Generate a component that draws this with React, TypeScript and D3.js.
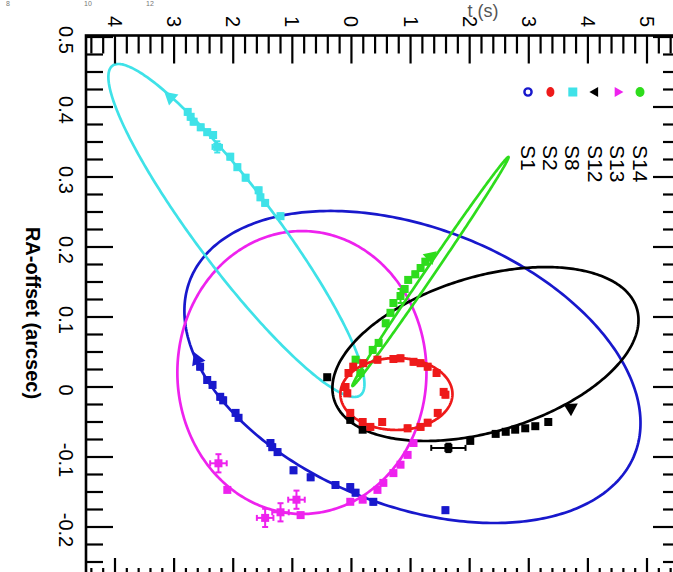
import React from "react";
import * as d3 from "d3";

const W = 673;
const H = 572;

// Horizontal axis (Dec offset, arcsec) and vertical axis (RA offset, arcsec)
const decTicks = [-0.4, -0.3, -0.2, -0.1, 0, 0.1, 0.2, 0.3, 0.4, 0.5];
const decTickLabels = ["4", "3", "2", "1", "0", "1", "2", "3", "4", "5"];
const raTicks = [0.5, 0.4, 0.3, 0.2, 0.1, 0, -0.1, -0.2];
const raTickLabels = ["0.5", "0.4", "0.3", "0.2", "0.1", "0", "-0.1", "-0.2"];

const stars = ["S1", "S2", "S8", "S12", "S13", "S14"];
const starColors = ["#1818cc", "#ee1a1a", "#3fe2e8", "#000000", "#ee22ee", "#2edc1c"];

// Orbit ellipses: centre and two conjugate semi-diameters (dec, ra) in arcsec
const orbitCenter = [[0.1032, 0.0286], [0.0761, -0.010], [-0.1946, 0.2236], [0.2267, 0.0471], [-0.0838, 0.0207], [0.1337, 0.165]];
const orbitAxisA = [[0.3858, -0.0801], [0.0948, 0], [0.2166, -0.2193], [0.2589, 0.0487], [0.2107, 0], [0.132, 0.1636]];
const orbitAxisB = [[0, -0.208], [0, 0.0514], [0, -0.0921], [0, -0.1143], [0, 0.2021], [0.0063, -0.0036]];

// Measured positions [dec, ra, errDec, errRa]
const s1Points = [
  [0.159, -0.176, 0.004, 0.004], [0.037, -0.164, 0.004, 0.004], [0.007, -0.151, 0.004, 0.004],
  [-0.002, -0.143, 0.004, 0.004], [-0.027, -0.140, 0.004, 0.004], [-0.069, -0.129, 0.004, 0.004],
  [-0.098, -0.119, 0.004, 0.004], [-0.125, -0.093, 0.004, 0.004], [-0.134, -0.086, 0.004, 0.004],
  [-0.137, -0.080, 0.004, 0.004], [-0.191, -0.044, 0.004, 0.004], [-0.196, -0.037, 0.004, 0.004],
  [-0.217, -0.019, 0.004, 0.004], [-0.222, -0.014, 0.004, 0.004], [-0.235, 0.003, 0.004, 0.004],
  [-0.244, 0.010, 0.004, 0.004], [-0.256, 0.029, 0.004, 0.004], [-0.261, 0.039, 0.004, 0.004],
];
const s2Points = [
  [0.020, 0.034, 0.003, 0.004], [0.044, 0.039, 0.003, 0.004], [0.071, 0.040, 0.003, 0.004],
  [0.083, 0.041, 0.003, 0.004], [0.105, 0.036, 0.003, 0.004], [0.117, 0.034, 0.003, 0.004],
  [0.129, 0.029, 0.003, 0.004], [0.144, 0.020, 0.003, 0.004], [0.156, -0.007, 0.003, 0.004],
  [0.159, -0.011, 0.003, 0.004], [0.146, -0.037, 0.003, 0.004], [0.129, -0.051, 0.003, 0.004],
  [0.117, -0.057, 0.003, 0.004], [0.095, -0.059, 0.003, 0.004], [0.052, -0.050, 0.003, 0.004],
  [0.032, -0.057, 0.003, 0.004], [0.019, -0.050, 0.003, 0.004], [-0.002, -0.037, 0.003, 0.004],
  [-0.007, -0.009, 0.003, 0.004], [-0.010, 0.000, 0.003, 0.004], [-0.005, 0.020, 0.003, 0.004],
  [0.003, 0.029, 0.003, 0.004],
];
const s8Points = [
  [-0.120, 0.244, 0.004, 0.004], [-0.146, 0.263, 0.004, 0.004], [-0.154, 0.271, 0.004, 0.004],
  [-0.157, 0.281, 0.004, 0.004], [-0.179, 0.299, 0.004, 0.004], [-0.193, 0.314, 0.004, 0.004],
  [-0.205, 0.329, 0.004, 0.004], [-0.227, 0.343, 0.008, 0.008], [-0.234, 0.360, 0.004, 0.004],
  [-0.244, 0.364, 0.004, 0.004], [-0.255, 0.371, 0.004, 0.004], [-0.267, 0.379, 0.004, 0.004],
  [-0.272, 0.386, 0.004, 0.004], [-0.277, 0.393, 0.004, 0.004], [-0.306, 0.414, 0.004, 0.004],
];
const s12Points = [
  [-0.041, 0.014, 0.003, 0.003], [-0.002, -0.047, 0.003, 0.003], [0.019, -0.061, 0.003, 0.003],
  [0.164, -0.087, 0.029, 0.006], [0.201, -0.077, 0.003, 0.003], [0.244, -0.067, 0.003, 0.003],
  [0.261, -0.064, 0.003, 0.003], [0.277, -0.061, 0.003, 0.003], [0.294, -0.059, 0.003, 0.003],
  [0.311, -0.056, 0.003, 0.003], [0.333, -0.050, 0.003, 0.003], [0.371, -0.030, 0.003, 0.003],
];
const s13Points = [
  [-0.225, -0.109, 0.014, 0.013], [-0.210, -0.147, 0.003, 0.003], [-0.146, -0.187, 0.014, 0.013],
  [-0.120, -0.179, 0.014, 0.013], [-0.093, -0.161, 0.014, 0.013], [-0.086, -0.183, 0.003, 0.003],
  [-0.002, -0.164, 0.003, 0.003], [0.019, -0.161, 0.003, 0.003], [0.044, -0.147, 0.003, 0.003],
  [0.054, -0.137, 0.003, 0.003], [0.071, -0.123, 0.003, 0.003], [0.083, -0.111, 0.003, 0.003],
  [0.095, -0.097, 0.003, 0.003], [0.105, -0.080, 0.003, 0.003],
];
const s14Points = [
  [0.015, 0.020, 0.003, 0.004], [0.007, 0.039, 0.003, 0.004], [0.036, 0.053, 0.003, 0.004],
  [0.046, 0.063, 0.003, 0.004], [0.058, 0.091, 0.003, 0.004], [0.066, 0.106, 0.003, 0.004],
  [0.071, 0.120, 0.003, 0.004], [0.083, 0.130, 0.003, 0.010], [0.090, 0.140, 0.003, 0.004],
  [0.096, 0.153, 0.003, 0.004], [0.108, 0.161, 0.003, 0.004], [0.117, 0.170, 0.003, 0.004],
  [0.125, 0.179, 0.003, 0.004], [0.134, 0.186, 0.003, 0.004],
];
const starPoints = [s1Points, s2Points, s8Points, s12Points, s13Points, s14Points];
const starHasArrow = [true, false, true, true, false, true];

const xS = d3.scaleLinear().domain([-0.4, 0.5]).range([115, 647]);
const yS = d3.scaleLinear().domain([-0.2, 0.5]).range([527, 37]);

const FRAME = { left: 86, top: 35.5, right: 680, bottom: 586 };
const FONT = "'Liberation Sans', Arial, Helvetica, sans-serif";

function orbitPath(i: number) {
  const c = orbitCenter[i], a = orbitAxisA[i], b = orbitAxisB[i];
  const pts: [number, number][] = d3.range(0, 360, 1).map((deg) => {
    const t = (deg * Math.PI) / 180;
    const dec = c[0] + a[0] * Math.cos(t) + b[0] * Math.sin(t);
    const ra = c[1] + a[1] * Math.cos(t) + b[1] * Math.sin(t);
    return [xS(dec), yS(ra)];
  });
  return d3.line().curve(d3.curveLinearClosed)(pts) || "";
}

export default function App() {
  const decMinor = d3.range(-22, 28).map((i) => ({ v: i * 0.02, major: i % 5 === 0 }));
  const raMinor = d3.range(-11, 21).map((i) => ({ v: i * 0.025, major: i % 4 === 0 }));

  const squareSym = d3.symbol().type(d3.symbolSquare).size(64);
  const triSym = d3.symbol().type(d3.symbolTriangle).size(90);

  return (
    <svg width={W} height={H} style={{ position: "absolute", left: 0, top: 0, background: "#fff" }}
      xmlns="http://www.w3.org/2000/svg">
      <rect x={0} y={0} width={W} height={H} fill="#fff" />
      {/* stray text from adjacent panel */}
      <g fontFamily={FONT} fill="#777">
        <text x={8} y={6} fontSize={7} textAnchor="middle">8</text>
        <text x={88} y={6} fontSize={7} textAnchor="middle">10</text>
        <text x={150} y={6} fontSize={7} textAnchor="middle">12</text>
        <text x={483} y={17} fontSize={18} fill="#555" textAnchor="middle">t (s)</text>
      </g>

      {/* orbits */}
      <g fill="none" strokeWidth={2.7}>
        {[0, 4, 2, 3, 5, 1].map((i) => (
          <path key={stars[i]} d={orbitPath(i)} stroke={starColors[i]} />
        ))}
      </g>

      {/* data points */}
      {[0, 4, 2, 3, 5, 1].map((i) => {
        const pts = starPoints[i];
        const col = starColors[i];
        return (
          <g key={"p" + stars[i]} fill={col} stroke={col}>
            {pts.map((p, k) => {
              const x = xS(p[0]);
              const y = yS(p[1]);
              const x0 = xS(p[0] - p[2]), x1 = xS(p[0] + p[2]);
              const y0 = yS(p[1] - p[3]), y1 = yS(p[1] + p[3]);
              const isArrow = starHasArrow[i] && k === pts.length - 1;
              if (isArrow) {
                const q = pts[k - 1];
                const dx = x - xS(q[0]);
                const dy = y - yS(q[1]);
                const ang = (Math.atan2(dy, dx) * 180) / Math.PI + 90;
                return (
                  <path key={k} d={triSym() || ""} stroke="none"
                    transform={`translate(${x},${y}) rotate(${ang})`} />
                );
              }
              return (
                <g key={k}>
                  <line x1={x0} x2={x1} y1={y} y2={y} strokeWidth={2} />
                  <line x1={x} x2={x} y1={y0} y2={y1} strokeWidth={2} />
                  <line x1={x0} x2={x0} y1={y - 3} y2={y + 3} strokeWidth={2} />
                  <line x1={x1} x2={x1} y1={y - 3} y2={y + 3} strokeWidth={2} />
                  <line x1={x - 3} x2={x + 3} y1={y0} y2={y0} strokeWidth={2} />
                  <line x1={x - 3} x2={x + 3} y1={y1} y2={y1} strokeWidth={2} />
                  <path d={squareSym() || ""} stroke="none" transform={`translate(${x},${y})`} />
                </g>
              );
            })}
          </g>
        );
      })}

      {/* frame */}
      <rect x={FRAME.left} y={FRAME.top} width={FRAME.right - FRAME.left} height={FRAME.bottom - FRAME.top}
        fill="none" stroke="#000" strokeWidth={2.6} />

      {/* ticks */}
      <g stroke="#000" strokeWidth={2.2}>
        {decMinor.map((t, k) => {
          const x = xS(t.v);
          const len = t.major ? 28 : 18;
          return (
            <g key={"dt" + k}>
              <line x1={x} x2={x} y1={FRAME.top} y2={FRAME.top + len} />
              <line x1={x} x2={x} y1={FRAME.bottom} y2={FRAME.bottom - len} />
            </g>
          );
        })}
        {raMinor.map((t, k) => {
          const y = yS(t.v);
          const len = t.major ? 27 : 17;
          return (
            <g key={"rt" + k}>
              <line x1={FRAME.left} x2={FRAME.left + len} y1={y} y2={y} />
              <line x1={FRAME.right} x2={FRAME.right - len} y1={y} y2={y} />
            </g>
          );
        })}
      </g>

      {/* tick labels */}
      <g fontFamily={FONT} fontSize={20} fill="#000">
        {decTicks.map((v, k) => (
          <text key={"dl" + k} transform={`translate(${xS(v)},27) rotate(90)`} textAnchor="end" dy="0.35em">
            {decTickLabels[k]}
          </text>
        ))}
        {raTicks.map((v, k) => (
          <text key={"rl" + k} transform={`translate(66,${yS(v) + 3}) rotate(90)`} textAnchor="middle" dy="0.35em">
            {raTickLabels[k]}
          </text>
        ))}
      </g>

      <text transform={`translate(33,313) rotate(90)`} textAnchor="middle" dy="0.35em"
        fontFamily={FONT} fontSize={20} fontWeight="bold" fill="#000">
        RA-offset (arcsec)
      </text>

      {/* legend */}
      <g>
        {stars.map((s, i) => {
          const lx = 528 + i * 22.4;
          const col = starColors[i];
          let sym: React.ReactNode = null;
          if (i === 0) sym = <circle cx={lx} cy={92} r={3.6} fill="none" stroke={col} strokeWidth={2.4} />;
          else if (i === 1) sym = <ellipse cx={lx} cy={92} rx={4} ry={5} fill={col} />;
          else if (i === 2) sym = <rect x={lx - 4.5} y={87.5} width={9} height={9} fill={col} />;
          else if (i === 3) sym = <path d={triSym() || ""} fill={col} transform={`translate(${lx},92) rotate(-90) scale(0.7)`} />;
          else if (i === 4) sym = <path d={triSym() || ""} fill={col} transform={`translate(${lx},92) rotate(90) scale(0.7)`} />;
          else sym = <ellipse cx={lx} cy={92} rx={4.5} ry={5} fill={col} />;
          return (
            <g key={"lg" + s}>
              {sym}
              <text transform={`translate(${lx},145) rotate(90)`} textAnchor="start" dy="0.35em"
                fontFamily={FONT} fontSize={21} fill="#000">{s}</text>
            </g>
          );
        })}
      </g>
    </svg>
  );
}
